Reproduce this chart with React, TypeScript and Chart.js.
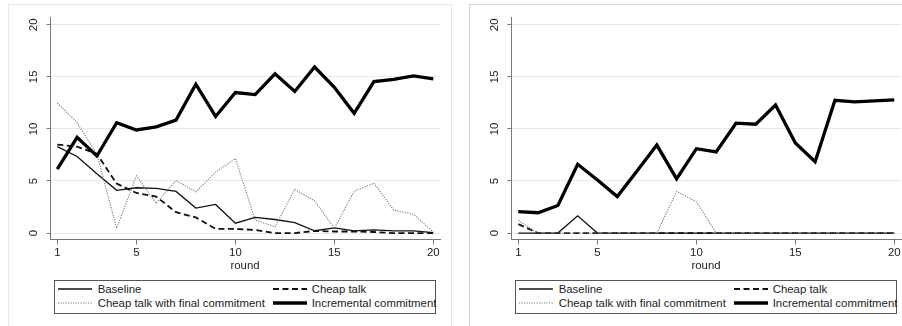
import React, { useEffect, useRef } from 'react';
import { Chart, registerables } from 'chart.js';

Chart.register(...registerables);

const rounds = [1, 2, 3, 4, 5, 6, 7, 8, 9, 10, 11, 12, 13, 14, 15, 16, 17, 18, 19, 20];
const xTickValues = [1, 5, 10, 15, 20];
const yTickValues = [0, 5, 10, 15, 20];
const seriesLabels = ['Baseline', 'Cheap talk', 'Cheap talk with final commitment', 'Incremental commitment'];

const leftBaseline = [8.3, 7.35, 5.7, 4.1, 4.35, 4.3, 4.0, 2.4, 2.75, 0.95, 1.5, 1.3, 1.0, 0.22, 0.5, 0.2, 0.3, 0.2, 0.2, 0.05];
const leftCheapTalk = [8.5, 8.3, 7.6, 4.75, 3.85, 3.5, 2.0, 1.5, 0.4, 0.4, 0.3, 0, 0, 0.2, 0.15, 0.15, 0.1, 0, 0, 0];
const leftFinalCommit = [12.5, 10.6, 7.6, 0.45, 5.5, 2.85, 5.05, 3.95, 5.85, 7.15, 1.25, 0.6, 4.2, 3.1, 0.45, 4.0, 4.8, 2.2, 1.8, 0.1];
const leftIncremental = [6.15, 9.2, 7.4, 10.6, 9.9, 10.2, 10.85, 14.3, 11.2, 13.5, 13.3, 15.3, 13.6, 15.95, 14.0, 11.5, 14.55, 14.75, 15.1, 14.8];

const rightBaseline = [0, 0, 0, 1.65, 0, 0, 0, 0, 0, 0, 0, 0, 0, 0, 0, 0, 0, 0, 0, 0];
const rightCheapTalk = [0.85, 0, 0, 0, 0, 0, 0, 0, 0, 0, 0, 0, 0, 0, 0, 0, 0, 0, 0, 0];
const rightFinalCommit = [1.2, 0, 0, 0, 0, 0, 0, 0, 4.0, 3.0, 0, 0, 0, 0, 0, 0, 0, 0, 0, 0];
const rightIncremental = [2.05, 1.95, 2.65, 6.6, 5.1, 3.5, 5.95, 8.45, 5.2, 8.1, 7.8, 10.55, 10.45, 12.3, 8.65, 6.85, 12.75, 12.6, 12.7, 12.8];

const FONT_FAMILY = '"Liberation Sans", Arial, Helvetica, sans-serif';
const FONT_SIZE = 11.4;
const TEXT_COLOR = '#222';
const AXIS_COLOR = '#777';

const seriesStyles = [
  { color: '#111', width: 1.3, dash: [] as number[], order: 4 },
  { color: '#111', width: 1.8, dash: [6, 3.5], order: 3 },
  { color: '#7a7a7a', width: 1.1, dash: [1.2, 1.3], order: 2 },
  { color: '#000', width: 3.3, dash: [] as number[], order: 1 },
];

const CANVAS_W = 442;
const CANVAS_H = 270;

function PanelChart({ series }: { series: number[][] }) {
  const ref = useRef<HTMLCanvasElement | null>(null);
  useEffect(() => {
    if (!ref.current) return;
    const font = { family: FONT_FAMILY, size: FONT_SIZE };
    const chart = new Chart(ref.current, {
      type: 'line',
      data: {
        datasets: series.map((vals, i) => ({
          label: seriesLabels[i],
          data: rounds.map((r, j) => ({ x: r, y: vals[j] })),
          borderColor: seriesStyles[i].color,
          borderWidth: seriesStyles[i].width,
          borderDash: seriesStyles[i].dash,
          pointRadius: 0,
          tension: 0,
          fill: false,
          order: seriesStyles[i].order,
          borderCapStyle: 'butt',
          borderJoinStyle: 'miter',
        })),
      },
      options: {
        animation: false,
        responsive: false,
        maintainAspectRatio: false,
        events: [],
        layout: { padding: { top: 12, right: 11, bottom: 2.7, left: 0 } },
        plugins: { legend: { display: false }, tooltip: { enabled: false } },
        scales: {
          x: {
            type: 'linear',
            min: 0.631,
            max: 20.339,
            afterBuildTicks: (s: any) => {
              s.ticks = xTickValues.map((v) => ({ value: v }));
            },
            afterFit: (s: any) => {
              s.height = 32.8;
            },
            grid: {
              drawOnChartArea: false,
              drawTicks: true,
              tickLength: 5,
              tickColor: AXIS_COLOR,
              tickWidth: 1,
            },
            border: { color: AXIS_COLOR, width: 1 },
            ticks: { color: TEXT_COLOR, font, padding: 2, maxRotation: 0, autoSkip: false },
            title: { display: true, text: 'round', color: TEXT_COLOR, font, padding: 0 },
          },
          y: {
            type: 'linear',
            min: -0.62,
            max: 20.67,
            afterBuildTicks: (s: any) => {
              s.ticks = yTickValues.map((v) => ({ value: v }));
            },
            afterFit: (s: any) => {
              s.width = 41;
            },
            grid: {
              color: '#e2ecef',
              lineWidth: 1,
              drawTicks: true,
              tickLength: 3.5,
              tickColor: AXIS_COLOR,
              tickWidth: 1,
            },
            border: { color: AXIS_COLOR, width: 1 },
            ticks: {
              color: TEXT_COLOR,
              font,
              minRotation: 90,
              maxRotation: 90,
              crossAlign: 'center',
              padding: 6,
              autoSkip: false,
            },
          },
        },
      } as any,
    });
    return () => chart.destroy();
  }, [series]);
  return (
    <canvas
      ref={ref}
      width={CANVAS_W}
      height={CANVAS_H}
      style={{ position: 'absolute', left: 0, top: 0, width: CANVAS_W, height: CANVAS_H }}
    />
  );
}

function LegendSample({ idx }: { idx: number }) {
  const st = seriesStyles[idx];
  return (
    <svg width={34} height={6} style={{ position: 'absolute', left: 0, top: 0, overflow: 'visible' }}>
      <line
        x1={0}
        y1={3}
        x2={34}
        y2={3}
        stroke={st.color}
        strokeWidth={st.width}
        strokeDasharray={st.dash.length ? st.dash.join(' ') : undefined}
      />
    </svg>
  );
}

function Legend() {
  const cols = [4.3, 218.7];
  const textCols = [43.7, 257.7];
  const rows = [8.5, 23];
  return (
    <div
      style={{
        position: 'absolute',
        left: 45,
        top: 275,
        width: 382,
        height: 33.5,
        boxSizing: 'border-box',
        border: '1px solid #555',
        fontFamily: FONT_FAMILY,
        fontSize: FONT_SIZE,
        color: TEXT_COLOR,
        whiteSpace: 'nowrap',
      }}
    >
      {seriesLabels.map((label, i) => {
        const c = i % 2;
        const r = Math.floor(i / 2);
        return (
          <React.Fragment key={label}>
            <div style={{ position: 'absolute', left: cols[c] - 1, top: rows[r] - 1 - 3, width: 34, height: 6 }}>
              <LegendSample idx={i} />
            </div>
            <div
              style={{
                position: 'absolute',
                left: textCols[c] - 1,
                top: rows[r] - 1 - 7,
                height: 14,
                lineHeight: '14px',
              }}
            >
              {label}
            </div>
          </React.Fragment>
        );
      })}
    </div>
  );
}

function Panel({ left, borderColor, series }: { left: number; borderColor: string; series: number[][] }) {
  return (
    <div
      style={{
        position: 'absolute',
        left,
        top: 4,
        width: 444,
        height: 340,
        boxSizing: 'border-box',
        border: `1px solid ${borderColor}`,
        background: '#fff',
      }}
    >
      <PanelChart series={series} />
      <Legend />
    </div>
  );
}

const leftSeries = [leftBaseline, leftCheapTalk, leftFinalCommit, leftIncremental];
const rightSeries = [rightBaseline, rightCheapTalk, rightFinalCommit, rightIncremental];

export default function App() {
  return (
    <div
      style={{
        position: 'fixed',
        left: 0,
        top: 0,
        width: 902,
        height: 326,
        overflow: 'hidden',
        background: '#fff',
      }}
    >
      <Panel left={8} borderColor="#e8e8e8" series={leftSeries} />
      <Panel left={469} borderColor="#d2d2d2" series={rightSeries} />
    </div>
  );
}
